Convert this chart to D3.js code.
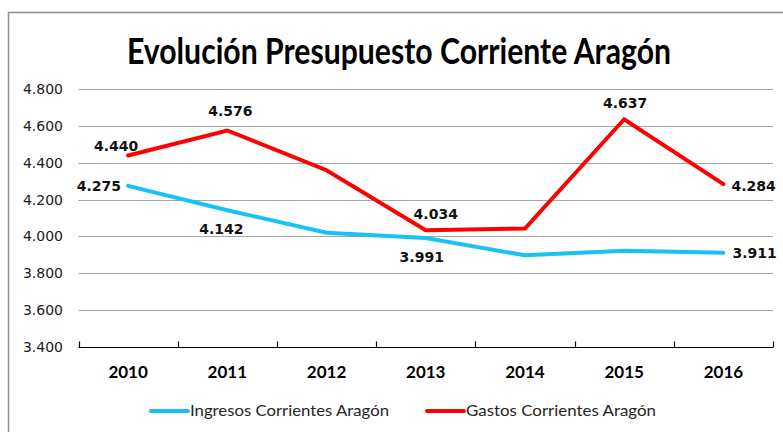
<!DOCTYPE html>
<html lang="es">
<head>
  <meta charset="UTF-8">
  <title>Evolución Presupuesto Corriente Aragón</title>
  <style>
    body {
      margin: 0;
      background: #fff;
    }
    svg {
      display: block;
    }
    .grid line {
      stroke: #a6a6a6;
      stroke-width: 1;
    }
    .title {
      font-family: Lato, 'Open Sans', sans-serif;
      font-weight: bold;
      font-size: 36px;
    }
    .ylab {
      font-family: 'DejaVu Sans', Verdana, sans-serif;
      font-size: 14px;
      fill: #1a1a1a;
    }
    .xlab {
      font-family: Lato, 'Open Sans', sans-serif;
      font-weight: bold;
      font-size: 17px;
    }
    .val {
      font-family: 'DejaVu Sans', Verdana, sans-serif;
      font-weight: bold;
      font-size: 14px;
      fill: #111;
    }
    .legend text {
      font-family: Lato, 'Open Sans', sans-serif;
      font-size: 16px;
      fill: #262626;
    }
  </style>
  <script src="https://d3js.org/d3.v7.min.js"></script>
</head>
<body>
  <svg></svg>
  <script>
    // values
    const years = ["2010", "2011", "2012", "2013", "2014", "2015", "2016"];
    const ingresos = [4.275, 4.142, 4.020, 3.991, 3.897, 3.922, 3.911];
    const gastos = [4.440, 4.576, 4.360, 4.034, 4.043, 4.637, 4.284];
    const yTicks = [3.4, 3.6, 3.8, 4.0, 4.2, 4.4, 4.6, 4.8];
    const seriesNames = ["Ingresos Corrientes Aragón", "Gastos Corrientes Aragón"];

    const width = 783, height = 432;
    const svg = d3.select("svg")
      .attr("width", width)
      .attr("height", height);

    // chart frame
    svg.append("rect")
      .attr("x", 8.5).attr("y", 12.5)
      .attr("width", 790).attr("height", 440)
      .attr("fill", "none")
      .attr("stroke", "#8c8c8c")
      .attr("stroke-width", 1.5);

    const x = d3.scaleBand()
      .domain(years)
      .range([78.5, 773]);

    const y = d3.scaleLinear()
      .domain([3.4, 4.8])
      .range([346.7, 89.3]);

    const num = d3.format(".3f");

    svg.append("text")
      .attr("class", "title")
      .attr("x", 399)
      .attr("y", 64)
      .attr("text-anchor", "middle")
      .attr("textLength", 544)
      .attr("lengthAdjust", "spacingAndGlyphs")
      .text("Evolución Presupuesto Corriente Aragón");

    // gridlines
    svg.append("g")
      .attr("class", "grid")
      .selectAll("line")
      .data(yTicks.slice(1))
      .join("line")
      .attr("x1", 78.5).attr("x2", 773)
      .attr("y1", d => Math.round(y(d)) + 0.5)
      .attr("y2", d => Math.round(y(d)) + 0.5);

    // y labels
    svg.append("g")
      .selectAll("text")
      .data(yTicks)
      .join("text")
      .attr("class", "ylab")
      .attr("x", 63)
      .attr("y", d => y(d))
      .attr("dy", "0.36em")
      .attr("text-anchor", "end")
      .text(d => num(d));

    // x axis line + ticks at band edges
    const axisY = Math.round(y(3.4)) + 0.5;
    const edges = years.map(d => x(d)).concat([x.range()[1]]);
    const ax = svg.append("g").attr("stroke", "#000").attr("stroke-width", 1.2);
    ax.append("line")
      .attr("x1", 78.5).attr("x2", 773)
      .attr("y1", axisY).attr("y2", axisY);
    ax.selectAll("line.tick")
      .data(edges)
      .join("line")
      .attr("class", "tick")
      .attr("x1", d => Math.round(d) + 0.5).attr("x2", d => Math.round(d) + 0.5)
      .attr("y1", axisY - 6).attr("y2", axisY);

    svg.append("g")
      .selectAll("text")
      .data(years)
      .join("text")
      .attr("class", "xlab")
      .attr("x", d => x(d) + x.bandwidth() / 2)
      .attr("y", 378)
      .attr("text-anchor", "middle")
      .text(d => d);

    const cx = d => x(d) + x.bandwidth() / 2;
    const line = d3.line()
      .x((d, i) => cx(years[i]))
      .y(d => y(d));

    const colors = ["#17c3f3", "#ff0000"];
    [ingresos, gastos].forEach((vals, k) => {
      svg.append("path")
        .datum(vals)
        .attr("d", line)
        .attr("fill", "none")
        .attr("stroke", colors[k])
        .attr("stroke-width", 4)
        .attr("stroke-linejoin", "miter")
        .attr("stroke-linecap", "round");
    });

    // value labels: which points are labelled and where they sit
    const labelSpots = [
      { s: 0, i: 0, dx: -7, dy: 0, anchor: "end" },
      { s: 0, i: 1, dx: -6, dy: 19, anchor: "middle" },
      { s: 0, i: 3, dx: -4, dy: 19, anchor: "middle" },
      { s: 0, i: 6, dx: 9, dy: 0, anchor: "start" },
      { s: 1, i: 0, dx: -12, dy: -10, anchor: "middle" },
      { s: 1, i: 1, dx: 3, dy: -20, anchor: "middle" },
      { s: 1, i: 3, dx: 10, dy: -16, anchor: "middle" },
      { s: 1, i: 5, dx: 1, dy: -16, anchor: "middle" },
      { s: 1, i: 6, dx: 8, dy: 2, anchor: "start" }
    ];
    const allSeries = [ingresos, gastos];
    svg.append("g")
      .selectAll("text")
      .data(labelSpots)
      .join("text")
      .attr("class", "val")
      .attr("x", d => cx(years[d.i]) + d.dx)
      .attr("y", d => y(allSeries[d.s][d.i]) + d.dy)
      .attr("dy", "0.36em")
      .attr("text-anchor", d => d.anchor)
      .text(d => num(allSeries[d.s][d.i]));

    // legend
    const legend = svg.append("g").attr("class", "legend");
    const legX = [151, 427];
    seriesNames.forEach((name, k) => {
      legend.append("line")
        .attr("x1", legX[k]).attr("x2", legX[k] + 37)
        .attr("y1", 411).attr("y2", 411)
        .attr("stroke", colors[k])
        .attr("stroke-width", 4)
        .attr("stroke-linecap", "round");
      legend.append("text")
        .attr("x", legX[k] + 39)
        .attr("y", 416)
        .attr("textLength", k === 0 ? 199 : 190)
        .attr("lengthAdjust", "spacingAndGlyphs")
        .text(name);
    });
  </script>
</body>
</html>
